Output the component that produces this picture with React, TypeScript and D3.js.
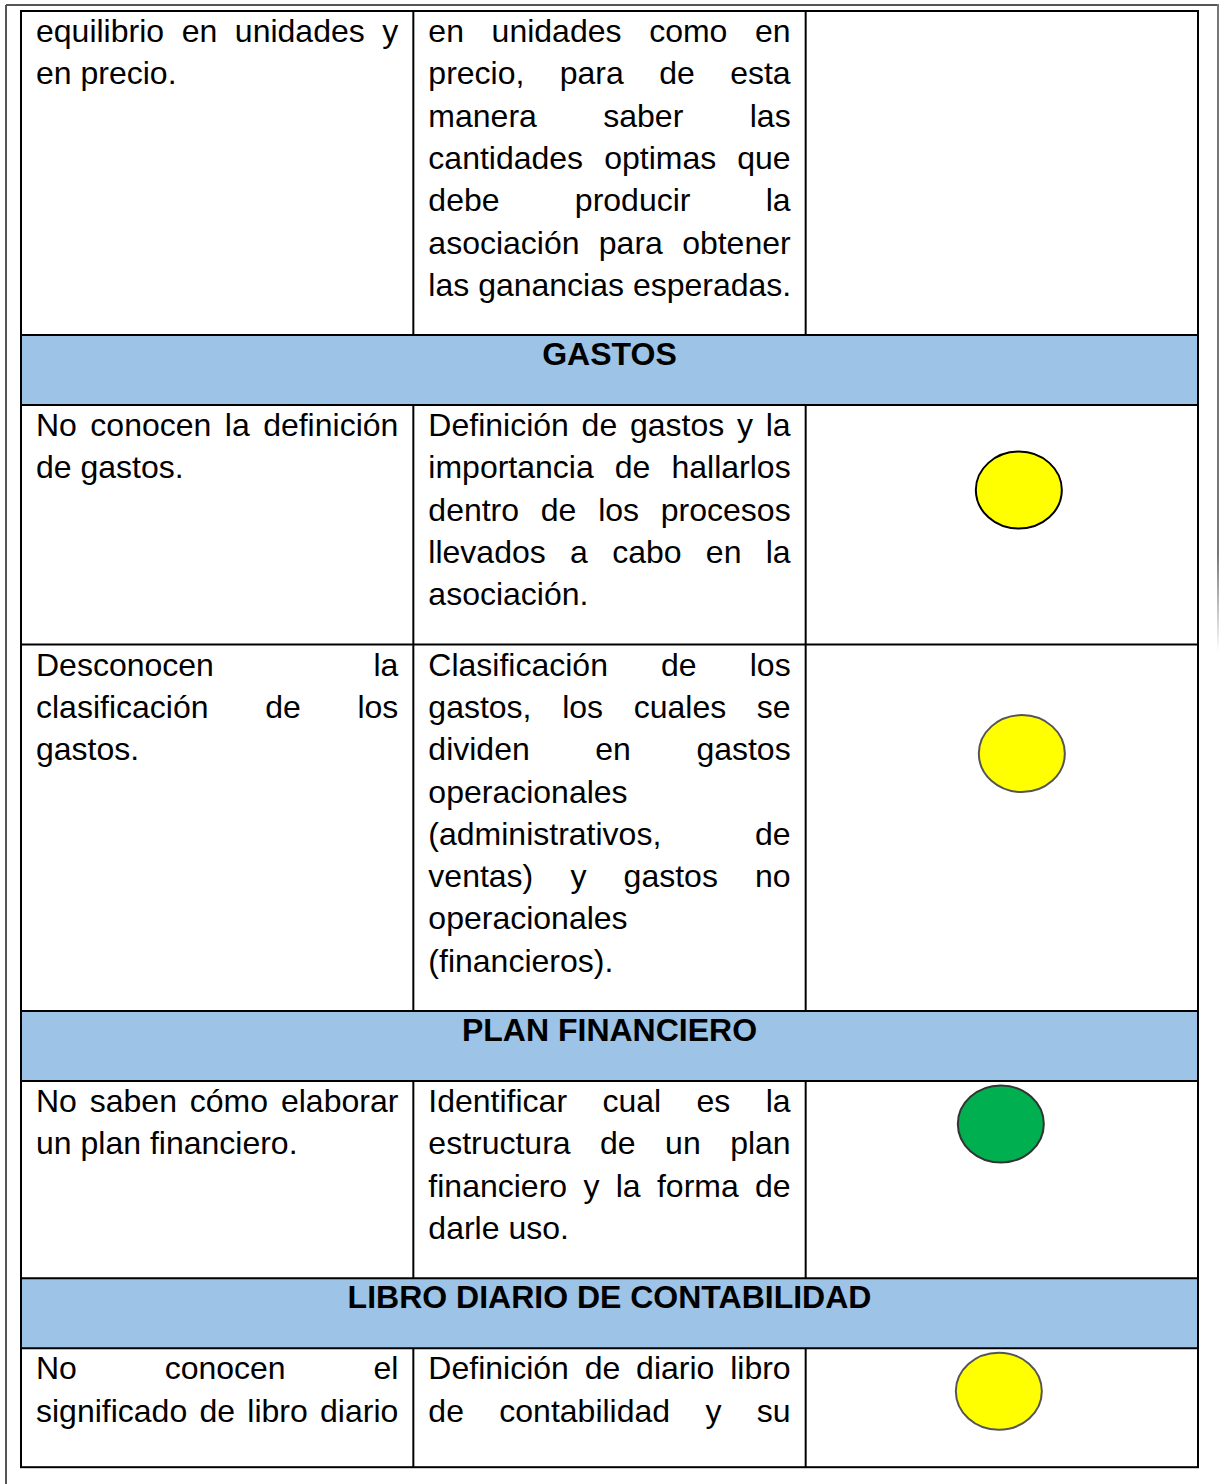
import * as d3 from 'd3';

// table content
const headingBefore = [null, 'GASTOS', null, 'PLAN FINANCIERO', 'LIBRO DIARIO DE CONTABILIDAD'];

const problemLines = [
  ['equilibrio en unidades y', 'en precio.'],
  ['No conocen la definición', 'de gastos.'],
  ['Desconocen la', 'clasificación de los', 'gastos.'],
  ['No saben cómo elaborar', 'un plan financiero.'],
  ['No conocen el', 'significado de libro diario'],
];

const topicLines = [
  [
    'en unidades como en',
    'precio, para de esta',
    'manera saber las',
    'cantidades optimas que',
    'debe producir la',
    'asociación para obtener',
    'las ganancias esperadas.',
  ],
  ['Definición de gastos y la', 'importancia de hallarlos', 'dentro de los procesos', 'llevados a cabo en la', 'asociación.'],
  [
    'Clasificación de los',
    'gastos, los cuales se',
    'dividen en gastos',
    'operacionales',
    '(administrativos, de',
    'ventas) y gastos no',
    'operacionales',
    '(financieros).',
  ],
  ['Identificar cual es la', 'estructura de un plan', 'financiero y la forma de', 'darle uso.'],
  ['Definición de diario libro', 'de contabilidad y su'],
];

// row text continues on the next page (last line is not a paragraph end)
const continues = [false, false, false, false, true];

const status = ['none', 'medio', 'medio', 'alto', 'medio'];

const statusColor = d3.scaleOrdinal<string, string>().domain(['medio', 'alto']).range(['#FFFF00', '#00B050']);

// hand placed shapes in the original document
const dotOffset = [
  { dx: 0, dy: 0, stroke: 'none' },
  { dx: 17, dy: 85, stroke: '#000' },
  { dx: 20, dy: 109, stroke: '#555' },
  { dx: -1, dy: 43, stroke: '#333' },
  { dx: -3, dy: 43, stroke: '#555' },
];

const W = 1223;
const H = 1484;
const FONT = "'Liberation Sans', Arial, sans-serif";
const FS = 32;
const LH = 42.3;
const PAD = 15;
const HEAD_H = 70;
const TOP = 11;

const ctx = document.createElement('canvas').getContext('2d')!;
function measure(s: string, bold = false) {
  ctx.font = `${bold ? 'bold ' : ''}${FS}px ${FONT}`;
  return ctx.measureText(s).width;
}

function placeWords(line: string, width: number, justify: boolean) {
  const words = line.split(' ');
  const ws = words.map((w) => measure(w));
  let gap = measure(' ');
  if (justify && words.length > 1) gap = (width - d3.sum(ws)) / (words.length - 1);
  let x = 0;
  return words.map((w, i) => {
    const p = { w, x };
    x += ws[i] + gap;
    return p;
  });
}

function Cell({ lines, x0, y0, width, more }: { lines: string[]; x0: number; y0: number; width: number; more: boolean }) {
  return (
    <g>
      {lines.map((line, li) => {
        const justify = li < lines.length - 1 || more;
        return placeWords(line, width, justify).map((p, wi) => (
          <text key={`${li}-${wi}`} x={x0 + p.x} y={y0 + 31 + li * LH} fontSize={FS} fontFamily={FONT} fill="#000">
            {p.w}
          </text>
        ));
      })}
    </g>
  );
}

export default function App() {
  const x = d3.scaleBand<string>().domain(['problem', 'topic', 'status']).range([21, 1198]);
  const right = 1198;
  const left = 21;

  // stack rows and heading bands
  type Block = { kind: 'head'; title: string; y: number; h: number } | { kind: 'row'; i: number; y: number; h: number };
  const blocks: Block[] = [];
  let y = TOP;
  problemLines.forEach((pl, i) => {
    const title = headingBefore[i];
    if (title) {
      blocks.push({ kind: 'head', title, y, h: HEAD_H });
      y += HEAD_H;
    }
    const n = Math.max(pl.length, topicLines[i].length);
    const h = Math.max(n * LH + 28, 119);
    blocks.push({ kind: 'row', i, y, h });
    y += h;
  });
  const bottom = y;

  const textW = x.bandwidth() - 2 * PAD;

  return (
    <div style={{ position: 'absolute', left: 0, top: 0 }}>
      <svg width={W} height={H} style={{ display: 'block', background: '#fff' }}>
        <defs>
          <linearGradient id="fade" x1="0" y1="0" x2="0" y2="1">
            <stop offset="0.85" stopColor="#777" />
            <stop offset="1" stopColor="#fff" />
          </linearGradient>
        </defs>
        {/* page frame */}
        <line x1={6} y1={5} x2={1218} y2={5} stroke="#555" strokeWidth={2} />
        <line x1={6} y1={5} x2={6} y2={H} stroke="#555" strokeWidth={2} />
        <rect x={1217} y={4} width={2} height={648} fill="url(#fade)" />

        {blocks.map((b, k) =>
          b.kind === 'head' ? (
            <g key={k}>
              <rect x={left} y={b.y} width={right - left} height={b.h} fill="#9DC3E6" />
              <text
                x={(left + right) / 2}
                y={b.y + 30}
                textAnchor="middle"
                fontSize={FS}
                fontWeight="bold"
                fontFamily={FONT}
                fill="#000"
              >
                {b.title}
              </text>
            </g>
          ) : (
            <g key={k}>
              <Cell lines={problemLines[b.i]} x0={x('problem')! + PAD} y0={b.y} width={textW} more={continues[b.i]} />
              <Cell lines={topicLines[b.i]} x0={x('topic')! + PAD} y0={b.y} width={textW} more={continues[b.i]} />
              {status[b.i] !== 'none' && (
                <ellipse
                  cx={x('status')! + x.bandwidth() / 2 + dotOffset[b.i].dx}
                  cy={b.y + dotOffset[b.i].dy}
                  rx={43}
                  ry={38.5}
                  fill={statusColor(status[b.i])}
                  stroke={dotOffset[b.i].stroke}
                  strokeWidth={2}
                />
              )}
              <line x1={x('topic')} x2={x('topic')} y1={b.y} y2={b.y + b.h} stroke="#000" strokeWidth={2} />
              <line x1={x('status')} x2={x('status')} y1={b.y} y2={b.y + b.h} stroke="#000" strokeWidth={2} />
            </g>
          )
        )}

        {/* horizontal rules */}
        {blocks.slice(1).map((b, k) => (
          <line key={k} x1={left} x2={right} y1={b.y} y2={b.y} stroke="#000" strokeWidth={2} />
        ))}
        <rect x={left} y={TOP} width={right - left} height={bottom - TOP} fill="none" stroke="#000" strokeWidth={2} />
      </svg>
    </div>
  );
}
